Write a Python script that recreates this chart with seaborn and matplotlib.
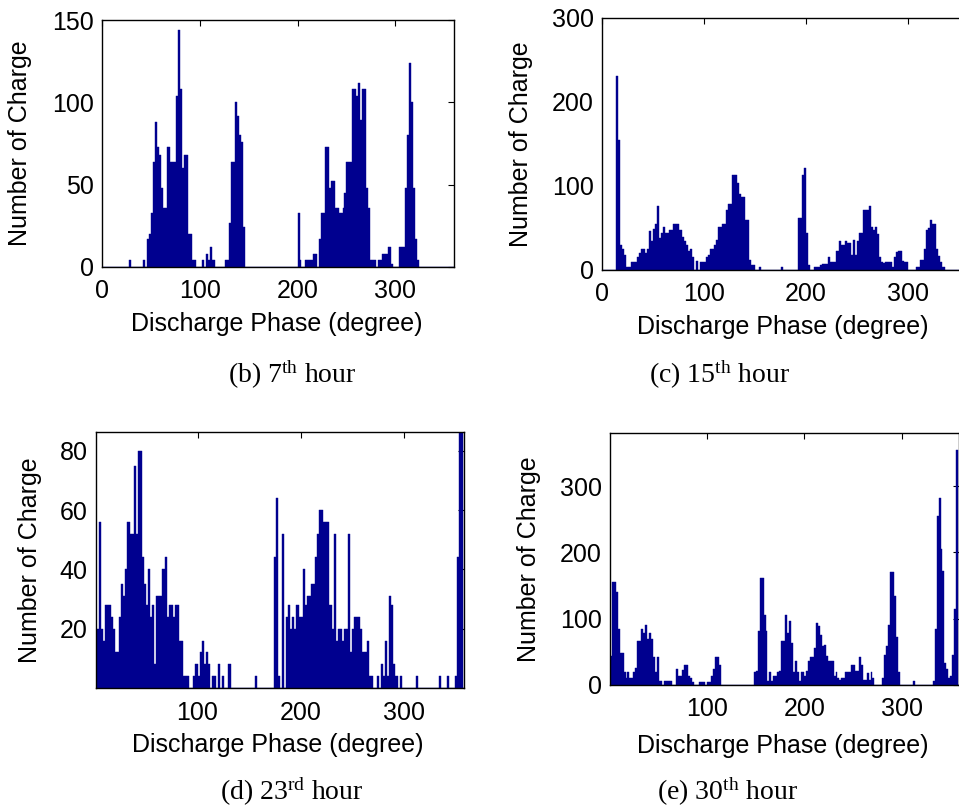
import numpy as np
import pandas as pd
import matplotlib
matplotlib.use("Agg")
import matplotlib.pyplot as plt
import seaborn as sns

sns.set_style("white")
plt.rcParams['font.family'] = ['Liberation Sans', 'DejaVu Sans']
plt.rcParams['mathtext.fontset'] = 'custom'
plt.rcParams['mathtext.rm'] = 'Liberation Serif'
plt.rcParams['mathtext.it'] = 'Liberation Serif:italic'

# ---------------- data (bin centres in degrees, counts) ----------------
phase_b = [29, 43, 47, 49, 51, 53, 55, 57, 59, 61,
           63, 65, 67, 69, 71, 73, 75, 77, 79, 81,
           83, 85, 87, 89, 91, 93, 95, 103, 107, 109,
           111, 113, 115, 127, 129, 131, 133, 135, 137, 139,
           141, 143, 145, 201, 203, 209, 211, 213, 215, 217,
           219, 223, 225, 227, 229, 231, 233, 235, 237, 239,
           241, 243, 245, 247, 249, 251, 253, 255, 257, 259,
           261, 263, 265, 267, 269, 271, 273, 275, 277, 279,
           283, 285, 287, 289, 291, 293, 295, 297, 305, 307,
           309, 311, 313, 315, 317, 319, 321, 323]
count_b = [4, 4, 17, 20, 33, 64, 88, 73, 68, 48,
           36, 36, 73, 73, 64, 64, 64, 104, 144, 108,
           60, 68, 68, 20, 20, 4, 4, 4, 8, 4,
           12, 4, 4, 4, 4, 27, 64, 64, 100, 92,
           80, 76, 24, 33, 4, 4, 4, 4, 4, 8,
           8, 17, 33, 33, 73, 73, 48, 52, 52, 36,
           36, 33, 33, 36, 45, 64, 64, 64, 108, 108,
           104, 112, 89, 108, 108, 48, 36, 4, 4, 4,
           4, 4, 8, 8, 8, 12, 12, 2, 12, 12,
           12, 48, 80, 124, 100, 48, 17, 4]

phase_c = [15, 17, 19, 21, 23, 25, 27, 29, 31, 33,
           35, 37, 39, 41, 43, 45, 47, 49, 51, 53,
           55, 57, 59, 61, 63, 65, 67, 69, 71, 73,
           75, 77, 79, 81, 83, 85, 87, 89, 93, 97,
           99, 101, 103, 105, 107, 109, 111, 113, 115, 117,
           119, 121, 123, 125, 127, 129, 131, 133, 135, 137,
           139, 141, 143, 145, 147, 149, 155, 177, 193, 195,
           197, 199, 201, 203, 209, 211, 213, 215, 217, 219,
           221, 223, 225, 227, 229, 231, 233, 235, 237, 239,
           241, 243, 245, 247, 249, 251, 253, 255, 257, 259,
           261, 263, 265, 267, 269, 271, 273, 275, 277, 279,
           281, 283, 285, 287, 289, 291, 293, 295, 297, 299,
           309, 311, 313, 315, 317, 319, 321, 323, 325, 327,
           329, 331, 333, 335]
count_c = [231, 155, 30, 25, 18, 4, 4, 9, 9, 9,
           15, 20, 25, 25, 20, 25, 47, 35, 49, 55,
           76, 38, 44, 51, 44, 44, 48, 48, 55, 55,
           55, 48, 39, 35, 30, 23, 25, 15, 11, 9,
           9, 9, 15, 18, 25, 25, 30, 36, 51, 51,
           55, 55, 71, 78, 78, 113, 113, 103, 90, 87,
           87, 60, 60, 12, 6, 6, 4, 4, 62, 62,
           113, 122, 44, 6, 4, 4, 4, 6, 7, 7,
           7, 16, 10, 10, 10, 23, 35, 30, 30, 35,
           32, 32, 18, 36, 18, 35, 44, 44, 71, 71,
           71, 76, 51, 48, 51, 43, 16, 10, 8, 9,
           9, 9, 4, 16, 22, 23, 23, 11, 9, 9,
           4, 4, 12, 12, 25, 48, 50, 60, 55, 55,
           25, 17, 10, 4]

phase_d = [1, 3, 5, 7, 9, 11, 13, 15, 17, 19,
           21, 23, 25, 27, 29, 31, 33, 35, 37, 39,
           41, 43, 45, 47, 49, 51, 53, 55, 57, 59,
           61, 63, 65, 67, 69, 71, 73, 75, 77, 79,
           81, 83, 85, 87, 89, 91, 97, 99, 101, 103,
           105, 107, 109, 111, 115, 117, 121, 125, 131, 157,
           175, 177, 179, 183, 187, 189, 191, 193, 195, 197,
           199, 201, 203, 205, 207, 209, 211, 213, 215, 217,
           219, 221, 223, 225, 227, 229, 231, 233, 235, 237,
           239, 241, 243, 245, 247, 249, 251, 253, 255, 257,
           259, 261, 263, 265, 267, 269, 275, 279, 281, 283,
           285, 287, 289, 291, 293, 297, 313, 335, 343, 351,
           353, 355, 357]
count_d = [20, 20, 56, 20, 16, 28, 28, 28, 24, 20,
           12, 12, 24, 35, 31, 40, 56, 52, 52, 75,
           52, 80, 80, 44, 35, 28, 40, 24, 28, 8,
           31, 31, 31, 40, 44, 24, 28, 28, 24, 28,
           28, 16, 16, 4, 4, 4, 4, 8, 4, 12,
           16, 8, 12, 8, 4, 4, 8, 4, 8, 4,
           44, 64, 4, 52, 24, 28, 20, 24, 20, 28,
           24, 24, 40, 28, 31, 31, 35, 35, 44, 52,
           60, 60, 56, 56, 56, 28, 20, 52, 16, 20,
           20, 16, 20, 20, 52, 12, 20, 24, 24, 24,
           20, 12, 12, 16, 4, 4, 4, 8, 4, 16,
           4, 31, 28, 8, 4, 4, 4, 4, 4, 4,
           44, 87, 87]

phase_e = [1, 3, 5, 7, 9, 11, 13, 15, 17, 19,
           21, 23, 25, 27, 29, 31, 33, 35, 37, 39,
           41, 43, 45, 47, 49, 51, 53, 57, 59, 61,
           63, 69, 71, 73, 75, 77, 79, 81, 83, 85,
           93, 95, 97, 101, 103, 105, 107, 109, 111, 113,
           149, 151, 153, 155, 157, 159, 161, 163, 165, 167,
           169, 171, 173, 175, 177, 179, 181, 183, 185, 187,
           189, 191, 193, 195, 197, 199, 201, 203, 205, 207,
           209, 211, 213, 215, 217, 219, 221, 223, 225, 227,
           229, 231, 233, 235, 237, 239, 241, 243, 245, 247,
           249, 251, 253, 255, 257, 259, 261, 263, 265, 267,
           269, 271, 281, 283, 285, 287, 289, 291, 293, 295,
           297, 313, 333, 335, 337, 339, 341, 343, 345, 347,
           349, 351, 353, 355, 357]
count_e = [44, 155, 155, 140, 85, 49, 49, 19, 10, 19,
           10, 10, 19, 25, 67, 67, 84, 79, 90, 69,
           78, 69, 42, 19, 42, 6, 6, 6, 6, 6,
           6, 24, 14, 14, 22, 30, 30, 14, 11, 5,
           5, 5, 5, 5, 5, 13, 24, 42, 42, 30,
           19, 21, 82, 162, 162, 105, 82, 6, 19, 6,
           14, 14, 19, 21, 67, 67, 105, 79, 97, 64,
           19, 36, 19, 6, 19, 19, 14, 21, 36, 42,
           42, 56, 93, 89, 75, 59, 60, 44, 36, 36,
           36, 14, 19, 10, 8, 11, 11, 19, 19, 19,
           30, 30, 21, 21, 42, 30, 8, 8, 18, 8,
           19, 11, 11, 45, 59, 90, 170, 170, 134, 72,
           19, 6, 6, 85, 255, 282, 205, 172, 33, 24,
           10, 13, 45, 115, 354]

captions = ['(b) 7$^{\\mathrm{th}}$ hour', '(c) 15$^{\\mathrm{th}}$ hour',
            '(d) 23$^{\\mathrm{rd}}$ hour', '(e) 30$^{\\mathrm{th}}$ hour']
xlabel = 'Discharge Phase (degree)'
ylabel = 'Number of Charge'

# ---------------- layout ----------------
W, H = 959, 810
BAR = '#00008f'

panels = [
    dict(ph=phase_b, ct=count_b, box=(102, 20, 454, 267), xlim=(0, 360), ylim=(0, 150),
         xt=[0, 100, 200, 300], yt=[0, 50, 100, 150], ylx=-0.199, xly=-0.182, xlx=0.497,
         cap=(292, 375)),
    dict(ph=phase_c, ct=count_c, box=(602, 18, 969, 270), xlim=(0, 360), ylim=(0, 300),
         xt=[0, 100, 200, 300], yt=[0, 100, 200, 300], ylx=-0.188, xly=-0.179, xlx=0.493,
         cap=(719, 375)),
    dict(ph=phase_d, ct=count_d, box=(96, 432, 464, 688), xlim=(1.5, 358.5), ylim=(0, 86.3),
         xt=[100, 200, 300], yt=[20, 40, 60, 80], ylx=-0.147, xly=-0.176, xlx=0.493,
         cap=(292, 792)),
    dict(ph=phase_e, ct=count_e, box=(610, 433, 959, 685), xlim=(0, 359), ylim=(0, 380),
         xt=[100, 200, 300], yt=[0, 100, 200, 300], ylx=-0.198, xly=-0.195, xlx=0.494,
         cap=(727, 792)),
]

fig = plt.figure(figsize=(W / 100, H / 100), dpi=100)
for p, cap in zip(panels, captions):
    assert len(p['ph']) == len(p['ct'])
    l, t, r, b = p['box']
    ax = fig.add_axes([l / W, 1 - b / H, (r - l) / W, (b - t) / H])
    df = pd.DataFrame({'phase': p['ph'], 'count': p['ct']})
    sns.histplot(data=df, x='phase', weights='count', binwidth=2, binrange=(0, 360),
                 ax=ax, color=BAR, alpha=1, edgecolor=BAR, linewidth=0.3)
    ax.set_xlim(*p['xlim'])
    ax.set_ylim(*p['ylim'])
    ax.set_xticks(p['xt'])
    ax.set_yticks(p['yt'])
    ax.tick_params(direction='in', length=4, width=0.8, top=True, right=True,
                   labelsize=18, color='black', labelcolor='black')
    ax.tick_params(axis='x', pad=9)
    ax.tick_params(axis='y', pad=6)
    for s in ax.spines.values():
        s.set_visible(True)
        s.set_color('black')
        s.set_linewidth(1.0)
    ax.set_xlabel(xlabel, fontsize=18, color='black')
    ax.set_ylabel(ylabel, fontsize=18, color='black')
    ax.xaxis.set_label_coords(p['xlx'], p['xly'])
    ax.yaxis.set_label_coords(p['ylx'], 0.5)
    cx, cy = p['cap']
    fig.text(cx / W, 1 - cy / H, cap, ha='center', va='center', fontsize=20,
             family='Liberation Serif', color='black')

fig.savefig('out.png', dpi=100, facecolor='white')
